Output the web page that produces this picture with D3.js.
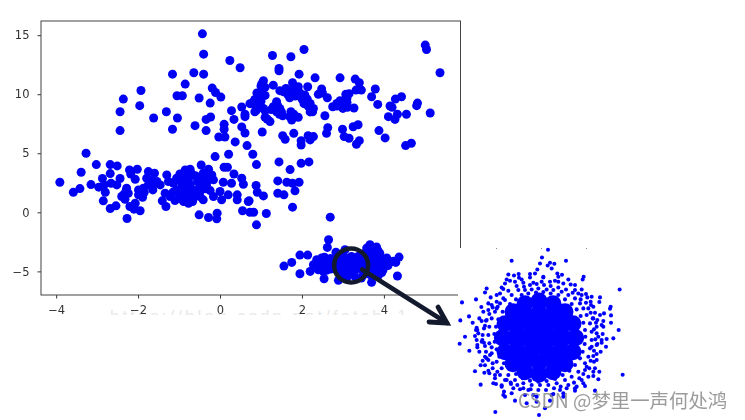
<!DOCTYPE html>
<html><head><meta charset="utf-8">
<script src="https://cdn.jsdelivr.net/npm/d3@7/dist/d3.min.js"></script>
<style>html,body{margin:0;padding:0;background:#fff}svg{display:block}</style></head>
<body><div id="c"></div>
<script>
const upperCluster=[[-.43,15.11],[-.4,13.39],[.24,12.86],[.49,12.24],[-1.16,11.7],[-.64,11.82],[-.4,11.7],[-.85,10.86],[-1.93,10.32],[-.19,10.52],[-.11,10.15],[.02,9.76],[-2.36,9.59],[-1.05,9.87],[-.92,9.87],[-.51,9.68],[-.24,9.25],[-2.44,8.52],[-1.96,9.03],[-1.31,8.52],[-1.62,7.99],[-1.04,7.99],[.28,8.61],[.53,8.92],[.34,7.87],[.61,8.1],[.61,8.3],[-.34,7.87],[-.23,8.07],[.1,7.45],[-.61,7.34],[.1,7.03],[-2.44,6.92],[-1.16,7.03],[-.34,6.92],[.53,7.23],[.61,6.72],[-.03,6.38],[.12,6.38],[.37,5.96],[.66,5.65],[-.12,4.72],[.21,4.92],[-3.27,5],[.73,9.2],
[2.05,13.79],[1.28,13.28],[1.73,13.17],[1.44,12.18],[1.44,11.98],[1.93,11.7],[2.32,11.39],[2.93,11.39],[3.3,11.28],[3.4,10.97],[5.01,14.16],[5.04,13.79],[5.37,11.82],[1.06,11.14],[1.02,10.9],[1.1,10.58],[1.02,10.3],[.94,9.87],[.85,9.56],[.8,9.31],[.98,9],[1.06,8.8],[.89,8.66],[.85,8.52],[1.3,10.77],[1.46,10.3],[1.61,10.49],[1.77,10.97],[1.91,10.63],[1.75,10.21],[1.83,9.85],[2.14,10.63],[2.07,9.93],[2.13,9.59],[2.2,9.22],[2.28,8.8],[2.26,8.52],[2.4,9.99],[2.48,10.44],[2.62,9.7],[2.56,8.18],[1.38,9.37],[1.3,8.94],[1.46,8.8],[1.38,8.52],[1.53,8.18],[1.73,8.52],[1.91,8.04],[1.75,7.82],[1.1,8.04],[1.22,7.68],[.8,4.92],[1.03,6.8],[1.53,6.49],[1.59,6.18],[1.8,6.69],[1.98,6.07],[1.98,5.7],[2.15,6.49],[2.2,6.13],[2.28,6.41],[2.6,6.69],[2.63,7.17],[2.99,7.03],[3.03,6.41],[3.15,6.27],[3.25,7.25],[3.37,7.42],[3.33,5.76],[3.4,6.07],[3.88,6.92],[4.03,6.3],[4.53,5.65],[4.67,5.85],[5.13,8.41],[4.82,9.25],[4.8,9.03],[4.55,8.3],[4.43,9.79],[4.28,9.59],[4.15,9],[4.2,8.89],[4.11,8.1],[4.27,7.87],[4.33,8.3],[3.85,9.14],[3.7,9.79],[3.79,10.44],[3.45,10.35],[3.32,10.35],[3.07,9.99],[3.27,8.83],[3.05,9.51],[2.93,9.45],[2.85,9.22],[2.75,8.94],[2.99,8.94],[3.11,8.89],
[1,10.7],[.9,10.1],[1.1,9.9],[1,9.4],[.85,9.1],[1.1,8.6],[1.55,10.2],[1.65,10],[1.8,10.4],[1.95,10.1],[1.7,9.7],[2,9.6],[2.05,9.2],[2.15,9],[2.2,8.5],[1.4,9.1],[1.5,8.5],[1.45,8.3],[1.35,8.9],[1.25,8.7],[1.15,7.9],[1.8,8.3],[1.7,8.1],[2.5,10.1],[2.95,9.1],[3.1,9.3],[3,8.8],[2.85,9],[3.1,9.7],[3.15,10.05]];
const leftCluster=[[-3.91,2.55],[-3.39,3.39],[-3.58,1.7],[-3.42,2.01],[-3.15,2.35],[-3.02,4.04],[-2.68,4.04],[-2.51,3.93],[-2.68,3.28],[-2.87,2.86],[-2.44,2.86],[-2.96,2.13],[-2.83,2.32],[-2.8,1.7],[-2.85,.97],[-2.66,2.46],[-2.52,2.32],[-2.68,.32],[-2.54,.55],[-2.28,2.04],[-2.24,1.62],[-2.36,1.48],[-2.32,1.11],[-2.4,1.34],[-2.27,-.52],[-2.21,3.59],[-2.02,3.65],[-2.18,3.25],[-2.07,2.8],[-2.2,.49],[-2.07,.77],[-2.1,.27],[-1.95,.13],[-1.99,1.9],[-1.87,2.04],[-1.99,1.48],[-1.89,1.28],[-1.75,3.45],[-1.6,3.31],[-1.79,2.89],[-1.67,2.75],[-1.54,2.61],[-1.75,2.32],[-1.64,1.9],[-1.46,2.32],[-1.3,3.17],[-1.26,2.61],[-1.34,1.62],[-1.41,.97],[-1.32,.49],[-1.22,1.34],[-1.1,1],[-.85,3.59],[-.73,3.65],[-.98,3.25],[-.89,2.89],[-1.06,2.89],[-.77,2.75],[-1.14,2.46],[-.93,2.32],[-.73,2.32],[-1.06,1.9],[-.85,1.84],[-.65,1.9],[-.98,1.48],[-.81,1.34],[-.61,1.34],[-.89,.92],[-.77,.77],[-.67,.92],[-.51,-.21],[-.28,-.44],[-.07,-.07],[-.08,-.55],[-.46,4.01],[-.28,3.65],[-.41,3.31],[-.2,3.17],[-.45,2.89],[-.28,2.75],[-.16,2.75],[-.49,2.32],[-.33,2.32],[-.49,1.76],[-.41,1.06],[-.49,1.34],[-.24,1.84],[-.16,1.34],[.04,1.06],[.1,3.82],[.18,3.82],[.34,3.25],[.08,2.55],[.28,2.46],[.53,2.89],[.57,2.38],[0,1.76],[.2,1.48],[.42,1.48],[.42,1.06],[.69,.92],[.55,.13],[.73,.01],[.89,4.04],[1.44,4.27],[1.71,3.62],[1.98,4.15],[2.17,4.27],[.88,2.27],[.91,1.7],[1.06,1.39],[.71,.97],[1.41,2.66],[1.63,2.55],[1.77,2.46],[1.93,2.55],[1.41,1.62],[1.56,1.48],[1.83,1.82],[1.77,.44],[.82,.01],[1.13,-.1],[.89,-1.06],[2.69,-.41],
[-.95,2.6],[-.8,2.1],[-.7,1.55],[-.95,1.15],[-.55,2.6],[-.35,2],[-.6,3.1],[-1.15,1.7],[-.85,3.2],[-.7,3.3],[-.3,3],[-1.65,2.2],[-1.85,1.7],[-2.3,1.75]];
const lowerCluster=[[2.65,-2.32],[2.62,-2.97],[1.95,-3.62],[2.14,-3.62],[1.56,-4.55],[1.75,-4.24],[1.95,-5.2],[2.2,-5],[4.33,-5.39],[4.37,-3.79],[4.29,-4.24],[3.7,-5.93],[2.54,-5.62],[2.89,-5.76],[2.48,-3.87],[2.36,-4.01],[2.28,-4.44],[2.4,-4.86],[2.6,-4.15],[2.64,-4.58],[2.52,-5],[2.83,-3.37],[3.05,-3.17],[3.66,-2.75],[3.82,-2.94],[3.58,-3.03],[3.54,-3.45],[3.7,-3.45],[3.9,-3.45],[3.78,-3.87],[3.62,-4.01],[4.07,-3.87],[4.15,-4.24],[3.9,-4.44],[3.74,-4.58],[3.58,-4.58],[3.45,-4.3],[3.98,-4.86],[3.86,-5.37],[3.66,-5.28],[3.45,-5.56],[3.29,-5.42],[3.09,-5.56],[2.93,-5.28],[2.85,-4.86],[2.85,-4.15],[3,-3.73],[3.21,-3.73],[3.37,-3.73],[3.05,-4.58],[3.25,-4.58],[2.76,-4.44],[3.17,-5.14],[3.5,-5],[3.82,-4.86],[4.23,-4.15],[3.98,-4.15],
[3.1,-3.9],[3.3,-3.9],[3.5,-3.8],[3.7,-3.8],[3.9,-3.8],[3,-4.2],[3.2,-4.2],[3.4,-4.1],[3.6,-4.2],[3.8,-4.2],[4,-4.4],[2.95,-4.6],[3.15,-4.5],[3.4,-4.6],[3.65,-4.75],[3.85,-4.65],[3.05,-4.95],[3.3,-4.9],[3.5,-5.3],[3.7,-5],[3.95,-5.1],[3,-5.2],[3.25,-5.2],[3.6,-3.1],[3.75,-3.15],[3.85,-3.2],[3.45,-3.6],[4.05,-4.1],[4.1,-4.5],[2.7,-4.8],[2.6,-4.9],[2.5,-4.5],[2.4,-4.3],[2.55,-3.8],[2.7,-3.9]];
const insetCore=[[1.1,0],[1.02,.42],[.78,.78],[.42,1.02],[0,1.1],[-.42,1.02],[-.78,.78],[-1.02,.42],[-1.1,0],[-1.02,-.42],[-.78,-.78],[-.42,-1.02],[0,-1.1],[.42,-1.02],[.78,-.78],[1.02,-.42],[.75,0],[.65,.37],[.37,.65],[0,.75],[-.37,.65],[-.65,.37],[-.75,0],[-.65,-.37],[-.37,-.65],[0,-.75],[.37,-.65],[.65,-.37],[.38,0],[.19,.33],[-.19,.33],[-.38,0],[-.19,-.33],[.19,-.33],[0,0]];
const insetScatter=[[.24,2.61],[.06,2.38],[-.85,2.28],[.78,2.28],[0,2.2],[.3,2.22],[.43,2.19],[.23,2.14],[.35,2.05],[-.08,2.02],[-.15,1.9],[-.3,1.88],[-.95,1.87],[-.78,1.84],[-.64,1.88],[-.63,1.77],[.52,1.9],[.66,1.86],[1.31,1.8],[1.28,1.72],[.1,1.8],[-1,1.72],[-1.05,1.6],[-.75,1.65],[-.5,1.62],[-.2,1.62],[.05,1.65],[.45,1.68],[.55,1.65],[.7,1.6],[.92,1.57],[-1.6,1.45],[-1.65,1.33],[-1.1,1.43],[-1.2,1.3],[2.39,1.42],[1.05,1.4],[1.38,1.28],[1.42,1.18],[1.8,1.18],[1.78,1.04],[-1.48,1.18],[-1.92,1.12],[-2.34,1.03],[1.52,1.05],[1.53,.95],[2.12,.9],[2.1,.84],[-1.76,.89],[-1.45,.95],[-1.3,.85],[-1.55,.8],[1.92,.7],[1.65,.72],[1.6,.55],[-2.13,.61],[2.13,.64],[-2.39,.49],[-1.6,.5],[-2.02,.42],[-1.75,.47],[2.13,.42],[1.9,.47],[1.85,.35],[1.7,.3],[-1.9,.27],[-1.92,.2],[2.36,.2],[-1.65,.33],[-1.85,.1],[-2.25,0],[2.2,-.05],[2,-.07],[1.88,.08],[1.75,0],[-1.95,.02],[-1.73,-.1],[-1.75,-.15],[-2.41,-.21],[-1.88,-.25],[1.98,-.3],[-1.65,-.28],[-1.45,-.32],[-2.12,-.42],[-1.88,-.32],[1.7,-.25],[1.55,-.3],[1.85,-.18],[-1.65,-.6],[-1.6,-.65],[1.7,-.52],[-1.5,-.55],[-1.78,-.86],[-1.65,-.86],[-1.95,-1.04],[-1.52,-1.1],[-1.35,-1.15],[-1.67,-1.08],[1.78,-1.05],[1.6,-1.05],[2.48,-1.14],[1.4,-.9],[1.35,-1],[1.75,-1.28],[1.6,-1.18],[-1.78,-1.44],[-1.4,-1.4],[-1.32,-1.42],[-1.15,-1.46],[-1,-1.3],[-.87,-1.42],[1.35,-1.48],[1.1,-1.5],[-1.08,-1.65],[-1.05,-1.8],[-1.1,-1.75],[-.75,-1.92],[-.6,-1.58],[-.35,-1.6],[1.65,-1.62],[.8,-1.55],[.6,-1.6],[-.1,-1.95],[.3,-1.92],[.15,-2.15],[-1.34,-2.26],[-.03,-2.35],[-.4,-2],[.7,-1.8],[1.05,-1.62],[-1.2,1],[-1.05,1.1],[-.85,1.25],[-.65,1.4],[-.45,1.4],[-.25,1.42],[-.05,1.45],[.2,1.42],[.4,1.4],[.65,1.35],[.85,1.25],[1.05,1.15],[1.2,1],[1.3,.85],[1.4,.65],[1.5,.4],[1.55,.15],[1.55,-.1],[1.5,-.35],[1.45,-.6],[1.35,-.8],[1.15,-1.05],[.95,-1.2],[.75,-1.3],[.5,-1.4],[.25,-1.45],[0,-1.45],[-.25,-1.45],[-.5,-1.4],[-.75,-1.3],[-.95,-1.15],[-1.15,-.95],[-1.3,-.75],[-1.45,-.5],[-1.52,-.2],[-1.55,.05],[-1.52,.3],[-1.45,.55],[-1.35,.75],[-1.27,.9],[-1.42,-.8],[-1.2,-1.15],[-.8,-1.55],[-.2,-1.75],[.4,-1.72],[1.25,-1.3],[1.62,-.75],[1.72,.5],[1.25,1.25],[.3,1.65],
[-1.1,1.15],[-.95,1.38],[-.7,1.52],[-.48,1.5],[-.3,1.55],[-.1,1.58],[.12,1.55],[.32,1.52],[.55,1.48],[.78,1.42],[.98,1.32],[1.15,1.3],[1.22,1.12],[1.38,1.02],[1.45,.85],[1.52,.72],[1.58,.55],[1.68,.42],[1.62,.22],[1.7,.1],[1.66,-.08],[1.72,-.22],[1.62,-.42],[1.6,-.58],[1.52,-.72],[1.48,-.95],[1.3,-1.12],[1.18,-1.25],[1.02,-1.38],[.85,-1.45],[.62,-1.5],[.42,-1.55],[.18,-1.6],[-.05,-1.6],[-.28,-1.58],[-.5,-1.55],[-.68,-1.45],[-.88,-1.38],[-1.05,-1.3],[-1.28,-1.05],[-1.42,-.95],[-1.55,-.7],[-1.62,-.45],[-1.68,-.18],[-1.72,.05],[-1.68,.25],[-1.62,.48],[-1.52,.68],[-1.42,.88],[-1.3,1.05],
[-.9,.98],[-.72,1.12],[-.55,1.25],[-.35,1.3],[-.12,1.33],[.1,1.34],[.32,1.3],[.55,1.25],[.75,1.12],[.95,.98],[1.1,.82],[1.22,.62],[1.3,.42],[1.35,.2],[1.36,0],[1.34,-.22],[1.28,-.45],[1.2,-.65],[1.05,-.85],[.88,-1.02],[.68,-1.15],[.45,-1.27],[.2,-1.33],[-.05,-1.35],[-.3,-1.32],[-.52,-1.25],[-.72,-1.12],[-.92,-.98],[-1.08,-.8],[-1.22,-.6],[-1.3,-.38],[-1.36,-.15],[-1.37,.08],[-1.32,.3],[-1.25,.52],[-1.12,.75],
[-1.3,1.25],[-1.15,1.48],[-.9,1.68],[-.55,1.72],[-.3,1.78],[.1,1.78],[.55,1.8],[.85,1.72],[1.05,1.55],[1.25,1.42],[1.55,1.2],[1.6,.9],[1.8,.65],[1.9,.3],[1.85,-.1],[1.82,-.45],[1.7,-.7],[1.65,-.95],[1.45,-1.2],[1.3,-1.4],[1.05,-1.55],[.7,-1.7],[.35,-1.75],[-.1,-1.8],[-.45,-1.75],[-.85,-1.7],[-1.15,-1.5],[-1.35,-1.25],[-1.55,-1.02],[-1.72,-.72],[-1.82,-.45],[-1.9,-.1],[-1.88,.2],[-1.82,.55],[-1.7,.75],[-1.55,1]];
const insetEdgeTicks=[-1.32,.03,1.38];
const xTicks=[-4,-2,0,2,4];
const yTicks=[-5,0,5,10,15];
const axisFont='"DejaVu Sans",sans-serif';

const W=745,H=420;
const svg=d3.select('#c').append('svg').attr('width',W).attr('height',H).style('font-family',axisFont);
const defs=svg.append('defs');
defs.append('filter').attr('id','soft').append('feGaussianBlur').attr('stdDeviation',.45);
defs.append('clipPath').attr('id','wm').append('rect').attr('x',100).attr('y',310).attr('width',360).attr('height',5);

const x=d3.scaleLinear().domain([-4.37,5.87]).range([41,460.5]);
const y=d3.scaleLinear().domain([-7,16.2]).range([295,21]);

svg.append('g').attr('clip-path','url(#wm)').append('text').attr('x',110).attr('y',322).attr('font-size',17).attr('letter-spacing',3)
  .attr('fill','#e8e8e8').attr('font-family','"Liberation Sans",sans-serif').text('https://blog.csdn.net/fetch_1');

const chart=svg.append('g').attr('filter','url(#soft)');
const points=[...upperCluster,...leftCluster,...lowerCluster];
chart.append('g').selectAll('circle').data(points).join('circle')
  .attr('cx',d=>x(d[0])).attr('cy',d=>y(d[1])).attr('r',4.5).attr('fill','#0000f5');

const fmt=d=>String(d).replace('-','\u2212');
const ax=chart.append('g').attr('transform','translate(0,295)')
  .call(d3.axisBottom(x).tickValues(xTicks).tickFormat(fmt).tickSize(3.5).tickPadding(7));
const ay=chart.append('g').attr('transform','translate(41,0)')
  .call(d3.axisLeft(y).tickValues(yTicks).tickFormat(fmt).tickSize(3.5).tickPadding(8));
[ax,ay].forEach(a=>{a.selectAll('text').attr('font-size',11.5).attr('font-family',axisFont).attr('fill','#333');
  a.selectAll('line').attr('stroke','#333');a.select('.domain').attr('stroke','none');});
chart.append('rect').attr('x',41).attr('y',21).attr('width',419.5).attr('height',274)
  .attr('fill','none').attr('stroke','#444').attr('stroke-width',1);

svg.append('rect').attr('x',458).attr('y',248).attr('width',287).attr('height',172).attr('fill','#fff');

const ix=d3.scaleLinear().domain([-2.7,2.7]).range([450,630]);
const iy=d3.scaleLinear().domain([-1,1]).range([336.7+33.3,336.7-33.3]);
svg.append('g').selectAll('rect').data(insetEdgeTicks).join('rect')
  .attr('x',d=>ix(d)).attr('y',248).attr('width',1).attr('height',1).attr('fill','#888');
const inset=svg.append('g').attr('fill','#0000ff').attr('filter','url(#soft)');
inset.selectAll('.core').data(insetCore).join('circle').attr('class','core')
  .attr('cx',d=>ix(d[0]-.03)).attr('cy',d=>iy(d[1]-.03)).attr('r',8.5);
inset.selectAll('.dot').data(insetScatter).join('path').attr('class','dot')
  .attr('transform',d=>`translate(${ix(d[0])},${iy(d[1])})`)
  .attr('d',d3.symbol(d3.symbolCircle,13));

const callout={cx:3.2,cy:-4.5};
const ink='#141a2e';
const cpx=x(callout.cx),cpy=y(callout.cy);
svg.append('circle').attr('cx',cpx).attr('cy',cpy).attr('r',17).attr('fill','none').attr('stroke',ink).attr('stroke-width',4.5);
const line=d3.line();
svg.append('path').attr('d',line([[cpx+11,cpy+4],[447,323]])).attr('fill','none').attr('stroke',ink).attr('stroke-width',4.5).attr('stroke-linecap','round');
svg.append('path').attr('d',line([[429,322],[447,323],[438,307]])).attr('fill','none').attr('stroke',ink).attr('stroke-width',4.8).attr('stroke-linecap','round').attr('stroke-linejoin','miter');

svg.append('text').attr('x',518).attr('y',408).attr('font-size',19.4).attr('fill','#8a8a8a').attr('fill-opacity',.85)
  .attr('font-family','"Noto Sans CJK SC","Noto Sans",sans-serif').text('CSDN @梦里一声何处鸿');
</script></body></html>
